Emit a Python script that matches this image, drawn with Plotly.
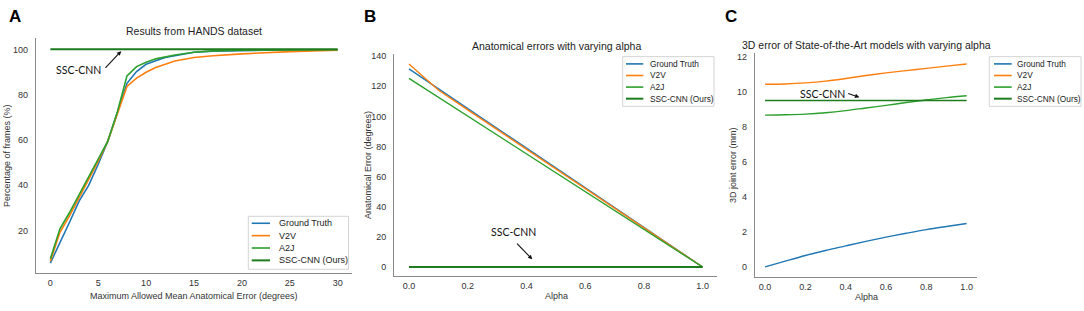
import plotly.graph_objects as go

# ---------------- data ----------------
series_names = ["Ground Truth", "V2V", "A2J", "SSC-CNN (Ours)"]
colors = ["#1f77b4", "#ff7f0e", "#2ca02c", "#1e7b1e"]

# Panel A
a_x = [0, 1, 2, 3, 4, 5, 6, 7, 8, 9, 10, 11, 12, 13, 15, 17, 20, 25, 30]
a_gt = [5.7, 14.5, 23.7, 33.0, 40.0, 49.3, 59.5, 72.0, 85.0, 90.2, 93.4, 95.0, 96.4, 97.2, 98.7, 99.2, 99.5, 99.8, 99.8]
a_v2v = [6.5, 19.3, 26.5, 34.5, 42.3, 50.7, 59.5, 71.5, 83.6, 87.3, 89.9, 92.0, 93.6, 94.9, 96.4, 97.2, 98.0, 99.0, 99.6]
a_a2j = [7.6, 20.8, 28.0, 35.8, 43.4, 51.5, 59.5, 72.5, 88.3, 92.4, 94.3, 95.8, 96.8, 97.5, 98.7, 99.3, 99.6, 99.8, 99.8]
a_ssc = [100, 100, 100, 100, 100, 100, 100, 100, 100, 100, 100, 100, 100, 100, 100, 100, 100, 100, 100]

# Panel B
alpha = [0.0, 0.1, 0.2, 0.3, 0.4, 0.5, 0.6, 0.7, 0.8, 0.9, 1.0]
b_gt = [131.5, 118.3, 105.2, 92.0, 78.9, 65.7, 52.6, 39.4, 26.3, 13.1, 0.0]
b_v2v = [134.7, 117.5, 104.3, 91.2, 78.2, 65.1, 52.1, 39.0, 26.0, 13.0, 0.0]
b_a2j = [125.2, 112.7, 100.2, 87.6, 75.1, 62.6, 50.1, 37.6, 25.0, 12.5, 0.0]
b_ssc = [0, 0, 0, 0, 0, 0, 0, 0, 0, 0, 0]

# Panel C
c_gt = [0.0, 0.33, 0.65, 0.94, 1.2, 1.46, 1.7, 1.92, 2.13, 2.31, 2.48]
c_v2v = [10.42, 10.44, 10.5, 10.6, 10.75, 10.92, 11.07, 11.2, 11.33, 11.46, 11.58]
c_a2j = [8.66, 8.68, 8.72, 8.8, 8.92, 9.07, 9.22, 9.38, 9.53, 9.66, 9.77]
c_ssc = [9.5, 9.5, 9.5, 9.5, 9.5, 9.5, 9.5, 9.5, 9.5, 9.5, 9.5]

a_xticks = [0, 5, 10, 15, 20, 25, 30]
a_yticks = [20, 40, 60, 80, 100]
b_yticks = [0, 20, 40, 60, 80, 100, 120, 140]
c_yticks = [0, 2, 4, 6, 8, 10, 12]
alpha_ticks = [0.0, 0.2, 0.4, 0.6, 0.8, 1.0]

# ---------------- figure ----------------
W, H = 1084, 311
fig = go.Figure()

def px_x(p):
    return p / W

def px_y(p):
    return 1 - p / H

panels = [
    dict(xa="x", ya="y", x=a_x, ys=[a_gt, a_v2v, a_a2j, a_ssc], widths=[1.6, 1.6, 1.6, 2.0], shape="linear"),
    dict(xa="x2", ya="y2", x=alpha, ys=[b_gt, b_v2v, b_a2j, b_ssc], widths=[1.4, 1.4, 1.4, 2.0], shape="linear"),
    dict(xa="x3", ya="y3", x=alpha, ys=[c_gt, c_v2v, c_a2j, c_ssc], widths=[1.4, 1.4, 1.4, 1.6], shape="spline"),
]
for p in panels:
    for name, col, ys, w in zip(series_names, colors, p["ys"], p["widths"]):
        fig.add_trace(go.Scatter(x=p["x"], y=ys, mode="lines", name=name,
                                 line=dict(color=col, width=w, shape=p["shape"]),
                                 xaxis=p["xa"], yaxis=p["ya"], showlegend=False))

FONT = "Liberation Sans, Arial, sans-serif"
tickfont = dict(family=FONT, size=9, color="#333")
axis_common = dict(showgrid=False, zeroline=False, showline=True, linecolor="#8a8a8a",
                   linewidth=1.3, ticks="", tickfont=tickfont, fixedrange=True)

fig.update_layout(
    width=W, height=H, margin=dict(l=0, r=0, t=0, b=0),
    paper_bgcolor="white", plot_bgcolor="white", showlegend=False,
    font=dict(family=FONT, color="#333"),
    xaxis=dict(domain=[px_x(36), px_x(352)], range=[-1.5, 31.5], tickvals=a_xticks,
               anchor="y", ticklabelstandoff=1, **axis_common),
    yaxis=dict(domain=[px_y(273), px_y(36.7)], range=[1.2, 104.8], tickvals=a_yticks,
               anchor="x", ticklabelstandoff=5, **axis_common),
    xaxis2=dict(domain=[px_x(394.3), px_x(717.3)], range=[-0.05, 1.05], tickvals=alpha_ticks,
                tickformat=".1f", anchor="y2", ticklabelstandoff=1, **axis_common),
    yaxis2=dict(domain=[px_y(276), px_y(52)], range=[-6.1, 141.6], tickvals=b_yticks,
                anchor="x2", ticklabelstandoff=5, **axis_common),
    xaxis3=dict(domain=[px_x(755), px_x(976.7)], range=[-0.05, 1.05], tickvals=alpha_ticks,
                tickformat=".1f", anchor="y3", ticklabelstandoff=1, **axis_common),
    yaxis3=dict(domain=[px_y(276.7), px_y(51.8)], range=[-0.57, 12.18], tickvals=c_yticks,
                anchor="x3", ticklabelstandoff=5, **axis_common),
)

ann = []
shapes = []

# ---- legends (drawn as boxes + sample lines + text) ----
legend_boxes = [
    # box left, top, right, bottom, sample x0, sample x1, text x, first row y, row step, font size
    (248.3, 215.7, 348.5, 269.0, 251.7, 270.0, 277.3, 222.7, 12.45, 9),
    (622.7, 55.0, 714.0, 105.0, 626.0, 643.3, 648.3, 62.3, 11.67, 8.3),
    (989.3, 55.0, 1081.0, 105.0, 994.0, 1011.7, 1015.0, 62.3, 11.67, 8.3),
]
for bx0, by0, bx1, by1, sx0, sx1, tx, ry0, step, fs in legend_boxes:
    shapes.append(dict(type="rect", xref="paper", yref="paper",
                       x0=px_x(bx0), x1=px_x(bx1), y0=px_y(by1), y1=px_y(by0),
                       line=dict(color="#d4d4d4", width=1), fillcolor="rgba(255,255,255,0.85)",
                       layer="above"))
    for i, (name, col) in enumerate(zip(series_names, colors)):
        ry = ry0 + i * step
        shapes.append(dict(type="line", xref="paper", yref="paper",
                           x0=px_x(sx0), x1=px_x(sx1), y0=px_y(ry), y1=px_y(ry),
                           line=dict(color=col, width=2 if i == 3 else 1.6), layer="above"))
        ann.append(dict(text=name, x=px_x(tx), y=px_y(ry), xref="paper", yref="paper",
                        showarrow=False, xanchor="left", yanchor="middle",
                        font=dict(family=FONT, size=fs, color="#222")))

# panel letters
for letter, xp in [("A", 15), ("B", 370), ("C", 731)]:
    ann.append(dict(text="<b>%s</b>" % letter, x=px_x(xp), y=px_y(15), xref="paper", yref="paper",
                    showarrow=False, xanchor="center", yanchor="middle",
                    font=dict(family=FONT, size=17, color="#000")))
# titles
title_font = dict(family=FONT, size=10.5, color="#222")
for t, xp, yp in [("Results from HANDS dataset", 194, 29),
                  ("Anatomical errors with varying alpha", 556, 44),
                  ("3D error of State-of-the-Art models with varying alpha", 866, 43)]:
    ann.append(dict(text=t, x=px_x(xp), y=px_y(yp), xref="paper", yref="paper", showarrow=False,
                    xanchor="center", yanchor="middle", font=title_font))
# axis titles
lab_font = dict(family=FONT, size=9, color="#333")
for t, xp, yp in [("Maximum Allowed Mean Anatomical Error (degrees)", 194, 296),
                  ("Alpha", 556, 296),
                  ("Alpha", 866, 297)]:
    ann.append(dict(text=t, x=px_x(xp), y=px_y(yp), xref="paper", yref="paper", showarrow=False,
                    xanchor="center", yanchor="middle", font=lab_font))
for t, xp, yp in [("Percentage of frames (%)", 7, 155),
                  ("Anatomical Error (degrees)", 368, 164),
                  ("3D joint error (mm)", 733, 164)]:
    ann.append(dict(text=t, x=px_x(xp), y=px_y(yp), xref="paper", yref="paper", showarrow=False,
                    xanchor="center", yanchor="middle", textangle=-90, font=lab_font))

# SSC-CNN callouts
ssc_font = dict(family="Lato, Open Sans, sans-serif", size=10.5, color="#111")
callouts = [
    # (xref, yref, tip x, tip y, text x, text y, tail x, tail y)
    ("x", "y", 7.4, 99.2, 2.9, 90.7, 5.6, 91.2),
    ("x2", "y2", 0.42, 5.1, 0.356, 23.0, 0.363, 16.5),
    ("x3", "y3", 0.468, 9.68, 0.283, 9.88, 0.405, 9.92),
]
for xr, yr, tx, ty, lx, ly, sx, sy in callouts:
    ann.append(dict(text="SSC-CNN", x=lx, y=ly, xref=xr, yref=yr, showarrow=False,
                    xanchor="center", yanchor="middle", font=ssc_font))
    ann.append(dict(text="", x=tx, y=ty, xref=xr, yref=yr, ax=sx, ay=sy, axref=xr, ayref=yr,
                    showarrow=True, arrowhead=2, arrowsize=0.8, arrowwidth=1.1, arrowcolor="#111"))
fig.update_layout(annotations=ann, shapes=shapes)

fig.write_html("out.html", config={"displayModeBar": False},
               post_script="document.body.style.margin='0px';")
